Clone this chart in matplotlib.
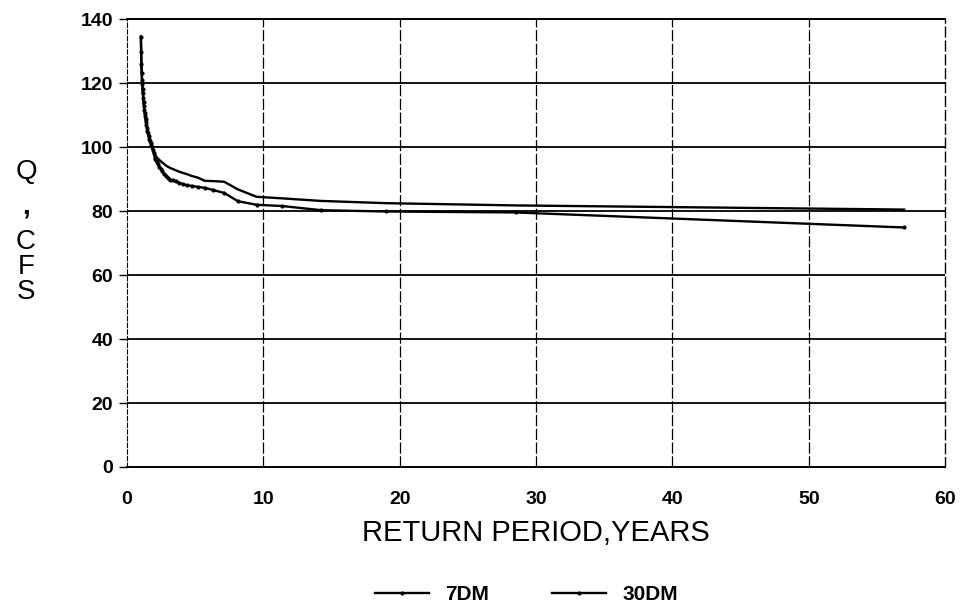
import matplotlib
matplotlib.use("Agg")
import matplotlib.pyplot as plt
from matplotlib.lines import Line2D

# ---- data ----
# return period (years), plotting positions for 56 years of record
ret_period = [57.0, 28.5, 19.0, 14.25, 11.4, 9.5, 8.14, 7.125, 6.33, 5.7,
              5.18, 4.75, 4.38, 4.07, 3.8, 3.56, 3.35, 3.17, 3.0, 2.85,
              2.71, 2.59, 2.48, 2.375, 2.28, 2.19, 2.11, 2.04, 1.97, 1.9,
              1.84, 1.78, 1.73, 1.68, 1.63, 1.58, 1.54, 1.5, 1.46, 1.425,
              1.39, 1.36, 1.33, 1.30, 1.27, 1.24, 1.21, 1.19, 1.16, 1.14,
              1.12, 1.10, 1.075, 1.056, 1.036, 1.018]

q_30dm = [80.5, 81.8, 82.5, 83.2, 84.0, 84.5, 86.8, 89.2, 89.4, 89.5,
          90.5, 91.0, 91.6, 92.0, 92.4, 92.8, 93.2, 93.5, 93.9, 94.3,
          94.8, 95.2, 95.6, 96.0, 96.4, 96.8, 97.3, 97.8, 98.4, 99.4,
          100.3, 101.0, 101.6, 102.2, 103.0, 103.8, 104.6, 105.4, 106.3, 107.2,
          108.1, 109.0, 110.0, 111.0, 112.0, 113.2, 114.5, 115.8, 117.2, 118.6,
          120.0, 121.4, 123.5, 126.3, 130.0, 134.7]

q_7dm = [74.9, 79.6, 79.9, 80.3, 81.6, 82.0, 83.1, 85.7, 86.6, 87.3,
         87.6, 87.9, 88.1, 88.5, 88.9, 89.3, 89.6, 89.9, 90.5, 91.1,
         91.7, 92.5, 93.2, 93.9, 94.6, 95.3, 95.9, 96.4, 98.1, 99.1,
         100.0, 100.7, 101.3, 101.9, 102.7, 103.5, 104.3, 105.1, 106.0, 106.9,
         107.8, 108.7, 109.7, 110.7, 111.7, 112.9, 114.2, 115.5, 116.9, 118.3,
         119.7, 121.1, 123.2, 126.0, 129.7, 134.4]

x_ticks = [0, 10, 20, 30, 40, 50, 60]
y_ticks = [0, 20, 40, 60, 80, 100, 120, 140]

FONT = "Liberation Sans"

fig = plt.figure(figsize=(9.66, 6.11), dpi=100)
ax = fig.add_axes([0.1315, 0.2357, 0.8468, 0.7327])

# grid: solid horizontals, dashed verticals
for y in y_ticks[1:-1]:
    ax.axhline(y, color="black", lw=1.3, zorder=1)
for x in x_ticks[1:-1]:
    ax.axvline(x, color="black", lw=0.9, ls=(0, (9, 2)), zorder=1)

ax.plot(ret_period, q_7dm, color="black", lw=1.7, marker="o", ms=2.0, zorder=3)
ax.plot(ret_period, q_30dm, color="black", lw=1.7, zorder=3)

ax.set_xlim(0, 60)
ax.set_ylim(0, 140)
ax.set_xticks(x_ticks)
ax.set_yticks(y_ticks)

ax.spines["top"].set_linewidth(1.4)
ax.spines["bottom"].set_linewidth(1.4)
ax.spines["left"].set_linewidth(0.8)
ax.spines["left"].set_linestyle((0, (4, 2)))
ax.spines["right"].set_linewidth(1.0)
ax.spines["right"].set_linestyle((0, (7, 3)))

ax.tick_params(axis="y", direction="out", length=6, width=1.0, pad=4,
               labelsize=14)
ax.tick_params(axis="x", length=0, pad=17, labelsize=14)
for lab in ax.get_xticklabels() + ax.get_yticklabels():
    lab.set_fontfamily(FONT)
    lab.set_fontweight("bold")

ax.set_xlabel("RETURN PERIOD,YEARS", fontsize=21, family=FONT, labelpad=8)

# stacked y-axis label
fig.text(0.027, 1 - 172 / 611, "Q", fontsize=20, family=FONT,
         ha="center", va="center")
fig.text(0.027, 1 - 207 / 611, ",", fontsize=20, family=FONT,
         weight="bold", ha="center", va="center")
fig.text(0.027, 1 - 267 / 611, "C\nF\nS", fontsize=20, family=FONT,
         ha="center", va="center", linespacing=0.95)

handles = [
    Line2D([], [], color="black", lw=1.7, marker="o", ms=2.0),
    Line2D([], [], color="black", lw=1.7, marker="o", ms=2.0),
]
fig.legend(handles, ["7DM", "30DM"], loc="center", ncol=2,
           bbox_to_anchor=(0.545, 1 - 595 / 611), frameon=False,
           handlelength=2.6, columnspacing=3.0, numpoints=1,
           prop={"family": FONT, "size": 15, "weight": "bold"})

fig.savefig("out.png", dpi=100)
